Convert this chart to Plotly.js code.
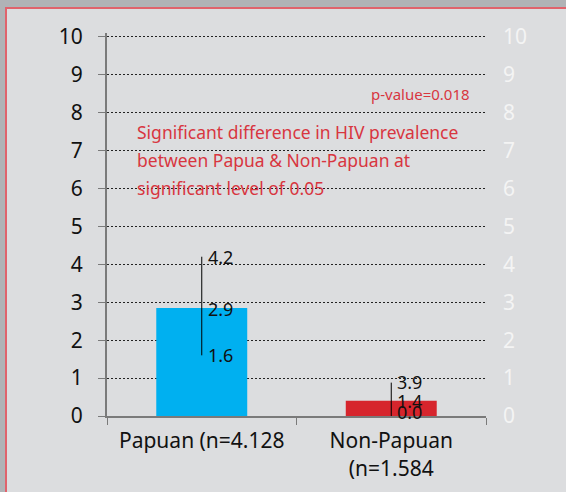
<!DOCTYPE html>
<html>
<head>
<meta charset="utf-8">
<script src="https://cdn.plot.ly/plotly-3.0.1.min.js"></script>
<style>
  html, body { margin:0; padding:0; width:566px; height:492px; overflow:hidden; background:#b0b3b6; }
  #panel { position:absolute; left:5px; top:7px; width:620px; height:560px; box-sizing:border-box;
           background:#dcdddf; border:2px solid #e0636c; }
  #chart { position:absolute; left:0; top:0; width:566px; height:492px; }
</style>
</head>
<body>
<div id="panel"></div>
<div id="chart"></div>
<script>
// ---- data ----
const categories = ["Papuan (n=4.128", "Non-Papuan<br>(n=1.584"];
const barValues  = [2.85, 0.40];          // bar heights as drawn
const highValues = [4.2, 0.88];           // top of the range line
const lowValues  = [1.6, 0.0];            // bottom of the range line
const highLabels = ["4.2", "3.9"];
const meanLabels = ["2.9", "1.4"];
const lowLabels  = ["1.6", "0.0"];
const barColors  = ["#00b0f0", "#d6252d"];
const yTicks     = [0,1,2,3,4,5,6,7,8,9,10];
const noteLines  = ["Significant difference in HIV prevalence",
                    "between Papua & Non-Papuan at",
                    "significant level of 0.05"];
const noteY      = [7.5, 6.75, 6.0];
const pValueText = "p-value=0.018";

const FONT = "Noto Sans, Open Sans, sans-serif";
const RED = "#d8363f";

const errPlus  = highValues.map((h,i) => h - barValues[i]);
const errMinus = lowValues.map((l,i) => barValues[i] - l);

const traces = [
  {
    type: "bar", x: categories, y: barValues, width: 0.48,
    marker: { color: barColors },
    error_y: { type: "data", symmetric: false, array: errPlus, arrayminus: errMinus,
               color: "#000", thickness: 1, width: 0 },
    hoverinfo: "skip"
  },
  { // invisible trace to host the right axis
    type: "scatter", mode: "markers", x: categories, y: barValues, yaxis: "y2",
    marker: { opacity: 0 }, hoverinfo: "skip", showlegend: false
  }
];

const annotations = [];
const labelFont = { family: FONT, size: 18, color: "#111" };
function addLabels(vals, texts, shifts) {
  vals.forEach((v, i) => {
    annotations.push({ x: categories[i], y: v, xref: "x", yref: "y", text: texts[i],
      showarrow: false, xanchor: "left", yanchor: "middle", xshift: 4, yshift: shifts[i],
      font: labelFont });
  });
}
addLabels(highValues, highLabels, [0, 1]);
addLabels(barValues, meanLabels, [-1, 0]);
addLabels(lowValues, lowLabels, [0, 4]);

noteLines.forEach((t, i) => {
  annotations.push({ x: 0.073, xref: "paper", y: noteY[i], yref: "y", text: t,
    showarrow: false, xanchor: "left", yanchor: "middle",
    font: { family: FONT, size: 17.5, color: RED } });
});
annotations.push({ x: 0.962, xref: "paper", y: 8.48, yref: "y", text: pValueText,
  showarrow: false, xanchor: "right", yanchor: "middle",
  font: { family: FONT, size: 15, color: RED } });

const yRange = [0, 10.1];

const layout = {
  width: 566, height: 492,
  margin: { l: 107, r: 80, t: 33, b: 76, pad: 0 },
  paper_bgcolor: "rgba(0,0,0,0)", plot_bgcolor: "rgba(0,0,0,0)",
  showlegend: false,
  font: { family: FONT, size: 21, color: "#111" },
  xaxis: {
    type: "category", showline: true, linecolor: "#7a7a7a", linewidth: 2,
    ticks: "outside", tickson: "boundaries", ticklen: 7, tickcolor: "#7a7a7a", tickwidth: 1,
    showgrid: false, zeroline: false, ticklabelstandoff: 5,
    tickfont: { family: FONT, size: 21, color: "#111" }
  },
  yaxis: {
    range: yRange, tickvals: yTicks, showline: true, linecolor: "#7a7a7a", linewidth: 2,
    ticks: "outside", ticklen: 7, tickcolor: "#7a7a7a", tickwidth: 1,
    showgrid: true, gridcolor: "#222", gridwidth: 1, griddash: "2px,2px",
    zeroline: false, ticklabelstandoff: 11,
    tickfont: { family: FONT, size: 21, color: "#111" }
  },
  yaxis2: {
    overlaying: "y", side: "right", range: yRange, tickvals: yTicks,
    showline: false, showgrid: false, zeroline: false, ticks: "",
    ticklabelstandoff: 16,
    tickfont: { family: FONT, size: 21, color: "#f4f4f4" }
  },
  annotations: annotations
};

Plotly.newPlot("chart", traces, layout, { displayModeBar: false, staticPlot: true });
</script>
</body>
</html>
